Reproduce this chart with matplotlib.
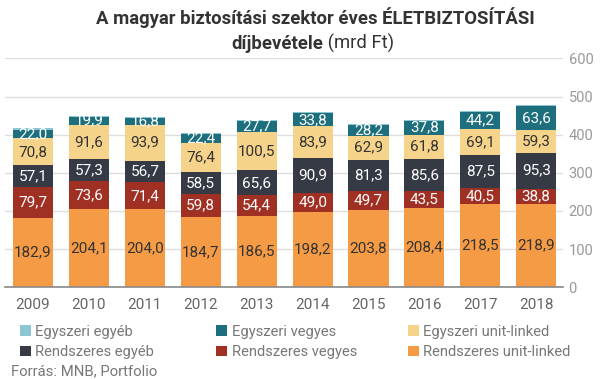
import matplotlib.pyplot as plt
import numpy as np

years = ["2009", "2010", "2011", "2012", "2013", "2014", "2015", "2016", "2017", "2018"]
rendszeres_unit = [182.9, 204.1, 204.0, 184.7, 186.5, 198.2, 203.8, 208.4, 218.5, 218.9]
rendszeres_vegyes = [79.7, 73.6, 71.4, 59.8, 54.4, 49.0, 49.7, 43.5, 40.5, 38.8]
rendszeres_egyeb = [57.1, 57.3, 56.7, 58.5, 65.6, 90.9, 81.3, 85.6, 87.5, 95.3]
egyszeri_unit = [70.8, 91.6, 93.9, 76.4, 100.5, 83.9, 62.9, 61.8, 69.1, 59.3]
egyszeri_vegyes = [22.0, 19.9, 16.8, 22.4, 27.7, 33.8, 28.2, 37.8, 44.2, 63.6]
egyszeri_egyeb = [5.0, 3.5, 2.8, 2.5, 2.5, 2.6, 1.5, 2.0, 2.0, 2.0]

# bottom to top: (values, colour, label colour, legend name)
series = [
    (rendszeres_unit, "#F59B45", "#333333", "Rendszeres unit-linked"),
    (rendszeres_vegyes, "#A13024", "white", "Rendszeres vegyes"),
    (rendszeres_egyeb, "#363A45", "white", "Rendszeres egyéb"),
    (egyszeri_unit, "#F5D38A", "#333333", "Egyszeri unit-linked"),
    (egyszeri_vegyes, "#1E6F7D", "white", "Egyszeri vegyes"),
    (egyszeri_egyeb, "#8CC6D0", None, "Egyszeri egyéb"),
]

plt.rcParams["font.family"] = ["Roboto", "DejaVu Sans"]

fig = plt.figure(figsize=(6.06, 3.79), dpi=100)
ax = fig.add_axes([0.008, 0.242, 0.921, 0.604])

x = np.arange(len(years))
bottom = np.zeros(len(years))
handles = {}
for vals, col, tcol, name in series:
    vals = np.array(vals)
    bars = ax.bar(x, vals, 0.716, bottom=bottom, color=col, zorder=2)
    handles[name] = bars
    if tcol is not None:
        for xi, b, v in zip(x, bottom, vals):
            ax.text(xi, b + v / 2, f"{v:.1f}".replace(".", ","), ha="center",
                    va="center", color=tcol, fontsize=11, zorder=3)
    bottom += vals

ax.set_ylim(0, 600)
ax.set_xlim(-0.504, 9.478)
ax.set_yticks(range(0, 601, 100))
ax.yaxis.tick_right()
ax.tick_params(axis="y", length=0, labelsize=10.5, labelcolor="#999999", pad=4)
ax.set_xticks(x)
ax.set_xticklabels(years)
ax.tick_params(axis="x", length=0, labelsize=11, labelcolor="#666666", pad=8)
ax.grid(axis="y", color="#dddddd", lw=1, zorder=0)
for s in ["top", "right", "left"]:
    ax.spines[s].set_visible(False)
ax.spines["bottom"].set_color("#888888")
ax.spines["bottom"].set_linewidth(1.2)
ax.spines["bottom"].set_zorder(4)

fig.text(0.52, 0.953, "A magyar biztosítási szektor éves ÉLETBIZTOSÍTÁSI",
         ha="center", va="center", fontsize=13.3, fontweight="bold", color="#333333")
fig.text(0.533, 0.885, "díjbevétele", ha="right", va="center", fontsize=13.3,
         fontweight="bold", color="#333333")
fig.text(0.533, 0.885, " (mrd Ft)", ha="left", va="center", fontsize=13.3,
         color="#333333")

columns = [
    (0.033, ["Egyszeri egyéb", "Rendszeres egyéb"]),
    (0.357, ["Egyszeri vegyes", "Rendszeres vegyes"]),
    (0.673, ["Egyszeri unit-linked", "Rendszeres unit-linked"]),
]
for xpos, names in columns:
    fig.legend([handles[n] for n in names], names, loc="center left",
               bbox_to_anchor=(xpos, 0.098), frameon=False, fontsize=10.6,
               labelcolor="#777777", handlelength=0.75, handleheight=0.75,
               handletextpad=0.3, labelspacing=0.45, borderaxespad=0,
               borderpad=0)
fig.text(0.018, 0.02, "Forrás: MNB, Portfolio", ha="left", va="center",
         fontsize=10.7, color="#777777")

fig.savefig("out.png", dpi=100)
